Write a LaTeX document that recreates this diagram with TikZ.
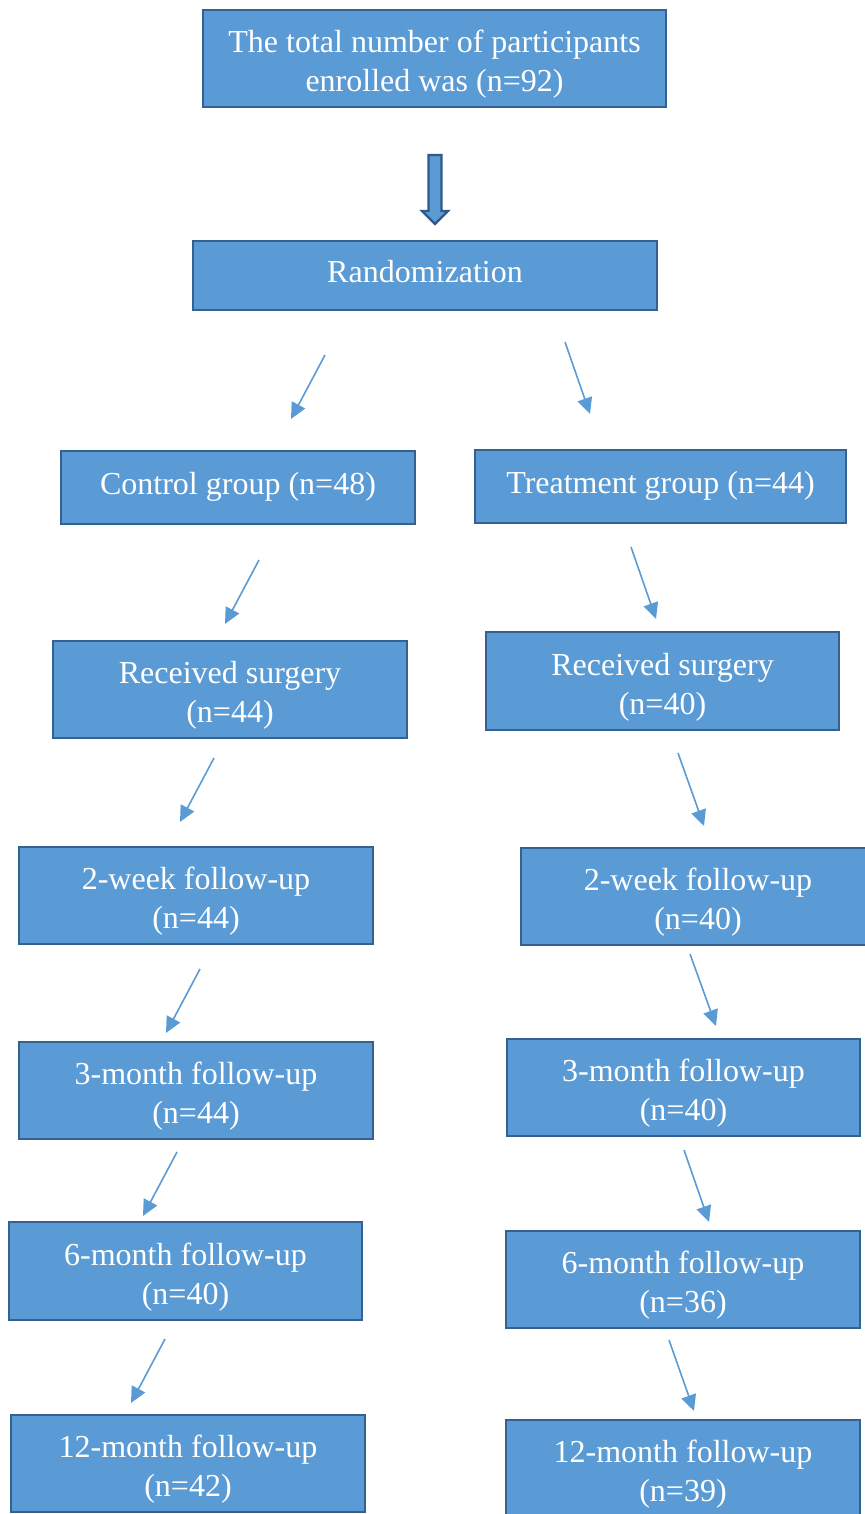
\documentclass[tikz,border=0pt]{standalone}
\usepackage{fontspec}
\setmainfont{Liberation Serif}
\usepackage{xcolor}
\definecolor{boxblue}{HTML}{5B9BD5}
\definecolor{boxline}{HTML}{34618F}
\definecolor{arrowline}{HTML}{2E5A88}
\usetikzlibrary{positioning,arrows.meta,calc}

\begin{document}
\begin{tikzpicture}[x=0.5pt,y=-0.5pt,font=\fontsize{16}{19.5}\selectfont,
        box/.style={draw=boxline,line width=1pt,fill=boxblue,text=white,align=center,inner sep=0pt,minimum height=48.5pt,text height=33pt,text depth=0pt},
        onebox/.style={box,text height=10.5pt,text depth=4pt},
        flow/.style={draw=boxblue,line width=0.8pt,-{Triangle[length=8pt,width=7.5pt]}}]
        \useasboundingbox (0,0) rectangle (864,1514);
        % boxes
        \node[box,minimum width=231.5pt] (total) at (434.5,58.5) {The total number of participants\\enrolled was (n=92)};
        \node[onebox,minimum width=232pt,minimum height=34.5pt] (random) at (425,275.5) {Randomization};
        \node[onebox,minimum width=177pt,minimum height=36.5pt] (control) at (238,487.5) {Control group (n=48)};
        \node[onebox,minimum width=185.5pt,minimum height=36.5pt] (treat) at (660.5,486.5) {Treatment group (n=44)};
        \node[box,minimum width=177pt] (surgL) at (230,689.5) {Received surgery\\(n=44)};
        \node[box,minimum width=176.5pt,minimum height=49pt] (surgR) at (662.5,681) {Received surgery\\(n=40)};
        \node[box,minimum width=177pt] (weekL) at (196,895.5) {2-week follow-up\\(n=44)};
        \node[box,minimum width=177pt] (weekR) at (698,896) {2-week follow-up\\(n=40)};
        \node[box,minimum width=177pt] (threeL) at (196,1090.5) {3-month follow-up\\(n=44)};
        \node[box,minimum width=176.5pt] (threeR) at (683.5,1087.5) {3-month follow-up\\(n=40)};
        \node[box,minimum width=176.5pt,minimum height=49pt] (sixL) at (185.5,1271) {6-month follow-up\\(n=40)};
        \node[box,minimum width=177pt] (sixR) at (683,1279.5) {6-month follow-up\\(n=36)};
        \node[box,minimum width=177pt] (twelveL) at (188,1463.5) {12-month follow-up\\(n=42)};
        \node[box,minimum width=177pt] (twelveR) at (683,1468.5) {12-month follow-up\\(n=39)};
        % block arrow
        \draw[arrowline,fill=boxblue,line width=1.2pt] (428.5,155) -- (441.5,155) -- (441.5,211) -- (448,211) -- (435,224) -- (422,211) -- (428.5,211) -- cycle;
        % thin arrows
        \coordinate (a1) at (325,355); \coordinate (b1) at (291,419);
        \coordinate (a2) at (565,342); \coordinate (b2) at (590,414);
        \coordinate (a3) at (259,560); \coordinate (b3) at (225,624);
        \coordinate (a4) at (631,547); \coordinate (b4) at (656,619);
        \coordinate (a5) at (214,758); \coordinate (b5) at (180,822);
        \coordinate (a6) at (678,753); \coordinate (b6) at (704,826);
        \coordinate (a7) at (200,969); \coordinate (b7) at (166,1033);
        \coordinate (a8) at (690,954); \coordinate (b8) at (716,1026);
        \coordinate (a9) at (177,1152); \coordinate (b9) at (143,1216);
        \coordinate (a10) at (684,1150); \coordinate (b10) at (709,1222);
        \coordinate (a11) at (165,1339); \coordinate (b11) at (131,1403);
        \coordinate (a12) at (669,1340); \coordinate (b12) at (694,1411);
        \foreach \i in {1,...,12}
            \draw[flow] (a\i) -- (b\i);
\end{tikzpicture}
\end{document}
